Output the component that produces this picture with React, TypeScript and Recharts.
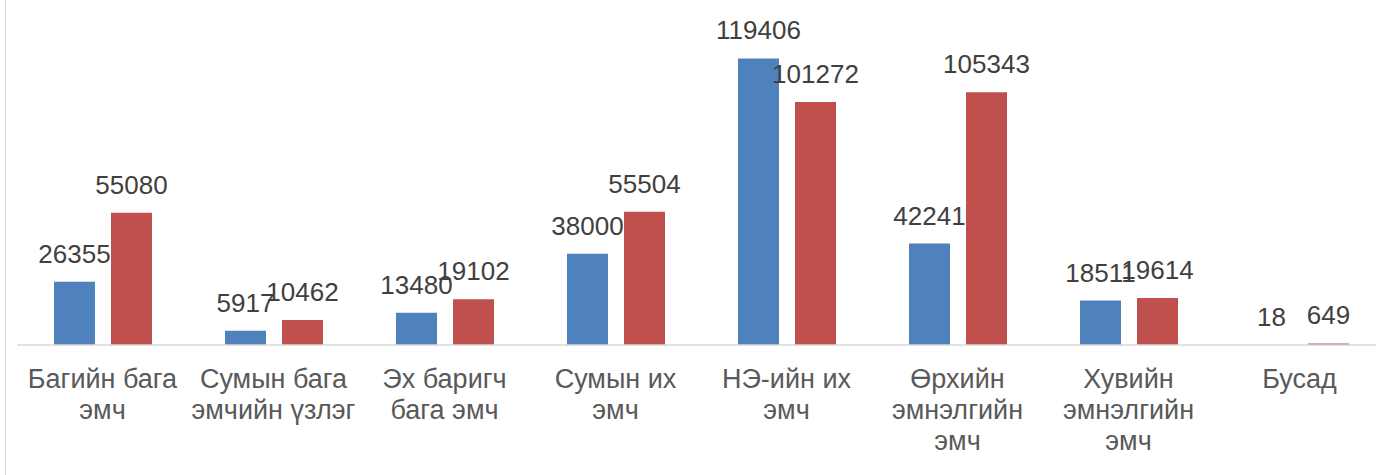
import React from "react";
import { BarChart, Bar, XAxis, YAxis, LabelList } from "recharts";

const categories = [
  "Багийн бага\nэмч",
  "Сумын бага\nэмчийн үзлэг",
  "Эх баригч\nбага эмч",
  "Сумын их\nэмч",
  "НЭ-ийн их\nэмч",
  "Өрхийн\nэмнэлгийн\nэмч",
  "Хувийн\nэмнэлгийн\nэмч",
  "Бусад",
];
const seriesA = [26355, 5917, 13480, 38000, 119406, 42241, 18511, 18];
const seriesB = [55080, 10462, 19102, 55504, 101272, 105343, 19614, 649];

const data = categories.map((c, i) => ({ name: c, a: seriesA[i], b: seriesB[i] }));

const FONT = "'Liberation Sans', Arial, sans-serif";

const Tick = (props: any) => {
  const { x, y, payload } = props;
  const lines = String(payload.value).split("\n");
  return (
    <text
      x={x}
      y={y + 43}
      textAnchor="middle"
      fill="#595959"
      fontSize={27}
      fontFamily={FONT}
    >
      {lines.map((l: string, i: number) => (
        <tspan key={i} x={x} dy={i === 0 ? 0 : 31}>
          {l}
        </tspan>
      ))}
    </text>
  );
};

const TopLabel = (props: any) => {
  const { x, y, width, value } = props;
  return (
    <text
      x={x + width / 2}
      y={y - 19}
      textAnchor="middle"
      fill="#404040"
      fontSize={26}
      fontFamily={FONT}
    >
      {value}
    </text>
  );
};

export default function App() {
  return (
    <div
      style={{
        position: "absolute",
        left: 0,
        top: 0,
        width: 1376,
        height: 475,
        overflow: "hidden",
        background: "#fff",
      }}
    >
      <div
        style={{
          position: "absolute",
          left: 5,
          top: -2,
          width: 1400,
          height: 500,
          borderLeft: "1.5px solid #D9D9D9",
        }}
      />
      <div style={{ position: "absolute", left: 0, top: 0 }}>
        <BarChart
          width={1390}
          height={475}
          data={data}
          margin={{ top: 9, right: 5, left: 17, bottom: 0 }}
          barSize={41}
          barGap={16}
        >
          <YAxis hide domain={[0, 140000]} />
          <XAxis
            dataKey="name"
            height={130}
            interval={0}
            tickLine={false}
            tickSize={0}
            tickMargin={0}
            axisLine={{ stroke: "#D9D9D9", strokeWidth: 1.5 }}
            tick={<Tick />}
          />
          <Bar dataKey="a" fill="#4F81BD" isAnimationActive={false}>
            <LabelList dataKey="a" content={<TopLabel />} />
          </Bar>
          <Bar dataKey="b" fill="#C0504D" isAnimationActive={false}>
            <LabelList dataKey="b" content={<TopLabel />} />
          </Bar>
        </BarChart>
      </div>
    </div>
  );
}
